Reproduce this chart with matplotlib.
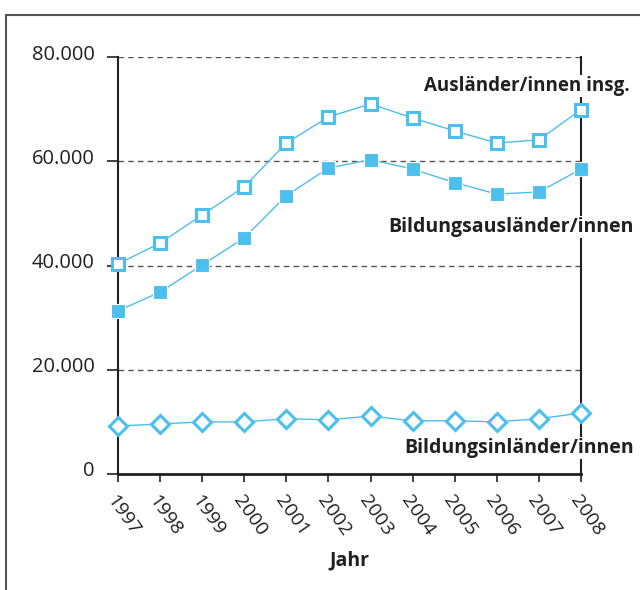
import matplotlib.pyplot as plt
import matplotlib.transforms as mtrans
from matplotlib.patches import Rectangle

jahre = [1997, 1998, 1999, 2000, 2001, 2002, 2003, 2004, 2005, 2006, 2007, 2008]
auslaender_insg = [40300, 44300, 49700, 55100, 63500, 68500, 71000, 68300, 65800, 63500, 64100, 69900]
bildungsauslaender = [31300, 34900, 40100, 45300, 53400, 58700, 60300, 58500, 55900, 53700, 54100, 58500]
bildungsinlaender = [9200, 9600, 10000, 10000, 10600, 10400, 11100, 10200, 10200, 10000, 10600, 11700]
y_ticks = [0, 20000, 40000, 60000, 80000]
y_labels = ["0", "20.000", "40.000", "60.000", "80.000"]

plt.rcParams['font.family'] = ['Open Sans', 'DejaVu Sans']
blau = '#4dbfec'
dunkel = '#231f20'

fig = plt.figure(figsize=(6.4, 5.9), dpi=100)
# Rahmen um die Grafik
fig.patches.append(Rectangle((6/640, -0.05), 1.1, 1 - 15/590 + 0.05, transform=fig.transFigure,
                             fill=False, edgecolor='#555555', linewidth=1.5))
ax = fig.add_axes([118/640, 1 - 474/590, (581 - 118)/640, (474 - 57)/590])

ax.plot(jahre, auslaender_insg, color=blau, linewidth=1, marker='s', markersize=9,
        markerfacecolor='white', markeredgecolor=blau, markeredgewidth=2.2, clip_on=False, zorder=3)
ax.plot(jahre, bildungsauslaender, color=blau, linewidth=1, marker='s', markersize=10,
        markerfacecolor=blau, markeredgecolor='white', markeredgewidth=0.8, clip_on=False, zorder=3)
ax.plot(jahre, bildungsinlaender, color=blau, linewidth=1, marker='D', markersize=9,
        markerfacecolor='white', markeredgecolor=blau, markeredgewidth=2.2, clip_on=False, zorder=3)

ax.set_xlim(1997, 2008)
ax.set_ylim(0, 80000)
for y in y_ticks[1:]:
    ax.axhline(y, color='#555555', linewidth=1, linestyle=(0, (4, 3)), zorder=1)

ax.set_yticks(y_ticks)
ax.set_yticklabels(y_labels, fontsize=14.5, color=dunkel)
ax.set_xticks(jahre)
ax.set_xticklabels([str(j) for j in jahre], fontsize=14, color=dunkel,
                   rotation=-55, ha='left', va='top', rotation_mode='anchor')
ax.tick_params(axis='y', length=8, width=1.2, color=dunkel, pad=9)
ax.tick_params(axis='x', length=6, width=1.2, color=dunkel, pad=7)
# Beschriftungen der y-Achse etwas nach oben
hoch = mtrans.ScaledTranslation(0, 5/100, fig.dpi_scale_trans)
for lbl in ax.get_yticklabels():
    lbl.set_transform(lbl.get_transform() + hoch)

ax.spines['top'].set_visible(False)
ax.spines['left'].set_color(dunkel)
ax.spines['left'].set_linewidth(1.5)
ax.spines['right'].set_color(dunkel)
ax.spines['right'].set_linewidth(1.5)
ax.spines['bottom'].set_color(dunkel)
ax.spines['bottom'].set_linewidth(2)

ax.set_xlabel("Jahr", fontsize=14, fontweight='bold', color=dunkel, labelpad=8)

box = dict(facecolor='white', edgecolor='none', pad=1)
fig.text(630/640, 1 - 86/590, "Ausländer/innen insg.", ha='right', va='center',
         fontsize=13.5, fontweight='bold', color=dunkel, bbox=box)
fig.text(634/640, 1 - 227/590, "Bildungsausländer/innen", ha='right', va='center',
         fontsize=14, fontweight='bold', color=dunkel, bbox=box)
fig.text(634/640, 1 - 448/590, "Bildungsinländer/innen", ha='right', va='center',
         fontsize=14, fontweight='bold', color=dunkel, bbox=box)

fig.savefig("out.png", dpi=100)
